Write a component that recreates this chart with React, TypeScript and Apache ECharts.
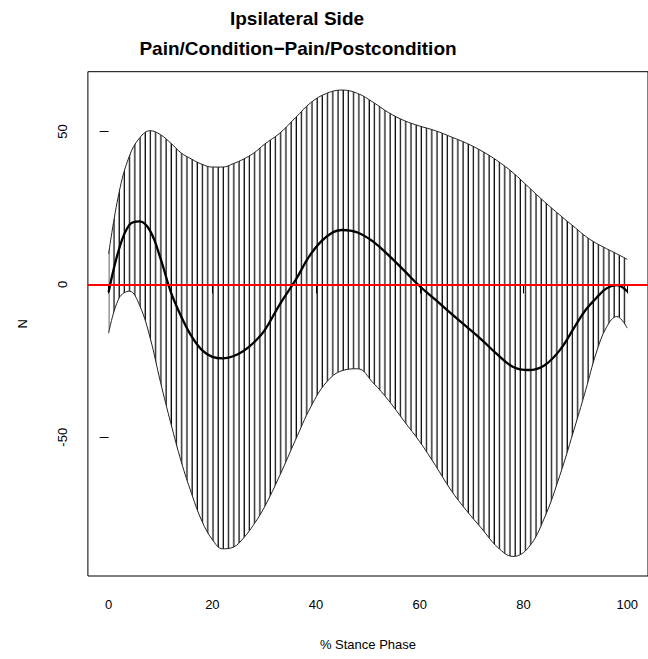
import React, { useEffect, useRef } from "react";
import * as echarts from "echarts";

// Stance phase sample positions (%)
const xs = [0, 2, 4, 6, 8, 10, 12, 14, 16, 18, 20, 22, 24, 26, 28, 30, 33, 36, 39, 42, 45, 48, 51, 54, 57, 60, 63, 66, 69, 72, 75, 78, 81, 84, 87, 90, 92, 94, 96, 98, 100];
// Upper confidence bound (N)
const upper = [10, 30, 42, 48, 50.3, 49, 46.2, 43, 41, 39.3, 38.4, 38.4, 39.5, 41, 43, 45.8, 49.5, 54.5, 59.5, 62.5, 63.6, 62.5, 59.6, 56.2, 53.6, 51.8, 50.3, 48.3, 46.2, 43.6, 40.4, 36.5, 31.8, 27.1, 22.7, 18.5, 15.7, 13.5, 11.7, 10, 8.2];
// Lower confidence bound (N)
const lower = [-16, -4.5, -2.2, -7, -17.5, -32, -45.5, -58, -68.5, -77.5, -83.5, -86.5, -86, -83, -78.5, -73, -62.5, -51, -40, -32, -28.2, -27.6, -32.2, -38, -44.8, -51.5, -59.2, -67.3, -74, -80, -86, -89, -86, -76.5, -62.5, -46, -34.5, -22.5, -14, -10.5, -14.3];
// Mean difference curve (N)
const meanCurve = [-2.5, 11.5, 19.5, 20.6, 17.5, 8.5, -2.5, -10.5, -17, -21.5, -23.7, -24.2, -23.5, -21.8, -19, -15.2, -6.5, 1.3, 10, 15.6, 17.8, 17, 14, 9.5, 4.5, -0.6, -5, -9.5, -13.8, -18.2, -23, -27, -28, -26.5, -21.5, -13.5, -8.3, -4.5, -1.3, -0.2, -2.3];

const xTicks = [0, 20, 40, 60, 80, 100];
const yTicks = [-50, 0, 50];

const titleLine1 = "Ipsilateral Side";
const titleLine2 = "Pain/Condition\u2212Pain/Postcondition";
const xName = "% Stance Phase";
const yName = "N";

const FONT = "'Liberation Sans', Arial, Helvetica, sans-serif";

export default function App() {
  const ref = useRef<HTMLDivElement>(null);

  useEffect(() => {
    if (!ref.current) return;
    const chart = echarts.init(ref.current, null, { renderer: "svg" });

    const gridLeft = 87.9;
    const gridTop = 71.7;
    const pxPerX = 5.21;
    const xMin = -4;
    const xMax = 104;
    const gridWidth = (xMax - xMin) * pxPerX;
    const gridHeight = 576 - gridTop;

    // hatch pattern: vertical lines one x-unit apart
    const cv = document.createElement("canvas");
    cv.width = 100;
    cv.height = 200;
    const ctx = cv.getContext("2d");
    if (ctx) {
      ctx.fillStyle = "#000";
      const x0 = gridLeft + (0 - xMin) * pxPerX;
      const off = x0 - Math.floor(x0 / pxPerX) * pxPerX;
      const cx = (off / pxPerX) * 100;
      const w = (1.25 / pxPerX) * 100;
      ctx.fillRect(cx - w / 2, 0, w, 200);
    }
    const pattern: any = {
      image: cv,
      repeat: "repeat",
      imageWidth: pxPerX,
      imageHeight: pxPerX * 2,
    };

    const smooth = 0.4;

    chart.setOption({
      animation: false,
      backgroundColor: "#ffffff",
      grid: {
        left: gridLeft,
        top: gridTop,
        width: gridWidth,
        height: gridHeight,
        show: true,
        borderColor: "#000",
        borderWidth: 1,
        backgroundColor: "transparent",
      },
      graphic: [
        {
          type: "text",
          x: 297,
          y: 18,
          style: {
            text: titleLine1,
            font: `bold 19px ${FONT}`,
            fill: "#000",
            align: "center",
            verticalAlign: "middle",
            textAlign: "center",
            textVerticalAlign: "middle",
          },
        },
        {
          type: "text",
          x: 298,
          y: 48,
          style: {
            text: titleLine2,
            font: `bold 19px ${FONT}`,
            fill: "#000",
            align: "center",
            verticalAlign: "middle",
            textAlign: "center",
            textVerticalAlign: "middle",
          },
        },
      ],
      xAxis: {
        type: "value",
        min: xMin,
        max: xMax,
        name: xName,
        nameLocation: "middle",
        nameGap: 62,
        nameTextStyle: { fontFamily: FONT, fontSize: 13, color: "#000" },
        axisLine: { show: false },
        axisTick: {
          show: true,
          length: 9,
          lineStyle: { color: "#000", width: 1 },
          customValues: xTicks,
        },
        axisLabel: {
          show: true,
          margin: 22,
          fontFamily: FONT,
          fontSize: 13,
          color: "#000",
          customValues: xTicks,
        },
        splitLine: { show: false },
      },
      yAxis: {
        type: "value",
        min: -95.4,
        max: 69.6,
        name: yName,
        nameLocation: "middle",
        nameGap: 59,
        nameRotate: 90,
        nameTextStyle: { fontFamily: FONT, fontSize: 13, color: "#000" },
        axisLine: { show: false },
        axisTick: {
          show: true,
          length: 9,
          lineStyle: { color: "#000", width: 1 },
          customValues: yTicks,
        },
        axisLabel: {
          show: true,
          rotate: 90,
          margin: 19,
          fontFamily: FONT,
          fontSize: 13,
          color: "#000",
          customValues: yTicks,
        },
        splitLine: { show: false },
      },
      series: [
        {
          name: "lower",
          type: "line",
          // value first so that the stack applies to the y dimension
          data: xs.map((x, i) => [lower[i], x]),
          encode: { x: 1, y: 0 },
          stack: "band",
          stackStrategy: "all",
          smooth,
          showSymbol: false,
          silent: true,
          lineStyle: { color: "#222", width: 1 },
          z: 3,
        },
        {
          name: "band",
          type: "line",
          data: xs.map((x, i) => [upper[i] - lower[i], x]),
          encode: { x: 1, y: 0 },
          stack: "band",
          stackStrategy: "all",
          smooth,
          showSymbol: false,
          silent: true,
          lineStyle: { color: "#222", width: 1 },
          areaStyle: { color: pattern, opacity: 1 },
          z: 2,
        },
        {
          name: "mean",
          type: "line",
          data: xs.map((x, i) => [x, meanCurve[i]]),
          smooth,
          showSymbol: false,
          silent: true,
          lineStyle: { color: "#000", width: 2.3 },
          z: 4,
        },
        {
          name: "zero",
          type: "line",
          data: [],
          silent: true,
          z: 5,
          markLine: {
            silent: true,
            symbol: "none",
            label: { show: false },
            lineStyle: { color: "#ff0000", width: 2, type: "solid" },
            data: [{ yAxis: 0 }],
          },
        },
      ],
    });

    return () => {
      chart.dispose();
    };
  }, []);

  return (
    <div
      ref={ref}
      style={{ position: "fixed", left: 0, top: 0, width: 648, height: 659, background: "#fff" }}
    />
  );
}
